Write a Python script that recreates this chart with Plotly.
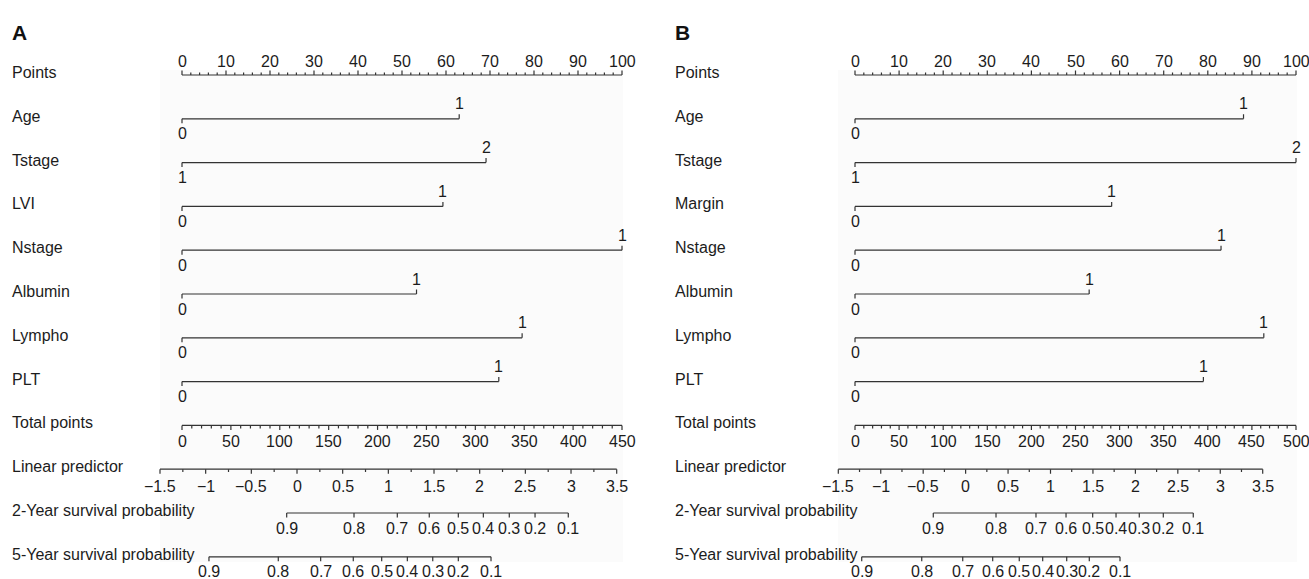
import numpy as np
import plotly.graph_objects as go

W, H = 1309, 579
FONT = "Liberation Sans, Arial, Helvetica, sans-serif"
TXT = "#1c1c1c"
LINE = "#333333"
LW = 1.2
FS = 16

# ---------------- data ----------------
ROW_LABELS_A = ["Points", "Age", "Tstage", "LVI", "Nstage", "Albumin", "Lympho", "PLT",
                "Total points", "Linear predictor",
                "2-Year survival probability", "5-Year survival probability"]
ROW_LABELS_B = ["Points", "Age", "Tstage", "Margin", "Nstage", "Albumin", "Lympho", "PLT",
                "Total points", "Linear predictor",
                "2-Year survival probability", "5-Year survival probability"]

LEVEL_LOW_A = ["0", "1", "0", "0", "0", "0", "0"]
LEVEL_HIGH_A = ["1", "2", "1", "1", "1", "1", "1"]
POINTS_A = [63.0, 69.1, 59.3, 100.0, 53.3, 77.3, 72.0]

LEVEL_LOW_B = ["0", "1", "0", "0", "0", "0", "0"]
LEVEL_HIGH_B = ["1", "2", "1", "1", "1", "1", "1"]
POINTS_B = [88.1, 100.0, 58.2, 83.0, 53.1, 92.7, 79.0]

POINTS_TICKS = [0, 10, 20, 30, 40, 50, 60, 70, 80, 90, 100]
TOTAL_TICKS_A = [0, 50, 100, 150, 200, 250, 300, 350, 400, 450]
TOTAL_TICKS_B = [0, 50, 100, 150, 200, 250, 300, 350, 400, 450, 500]
LP_TICKS = [-1.5, -1, -0.5, 0, 0.5, 1, 1.5, 2, 2.5, 3, 3.5]
LP_TICK_TEXT = ["\u22121.5", "\u22121", "\u22120.5", "0", "0.5", "1", "1.5", "2", "2.5", "3", "3.5"]

SURV_LABELS = ["0.9", "0.8", "0.7", "0.6", "0.5", "0.4", "0.3", "0.2", "0.1"]
# positions of survival ticks on the linear-predictor scale
SURV2_LP_A = [-0.113, 0.624, 1.098, 1.448, 1.766, 2.040, 2.324, 2.606, 2.970]
SURV5_LP_A = [-0.964, -0.205, 0.259, 0.616, 0.927, 1.208, 1.486, 1.766, 2.124]
SURV2_LP_B = [-0.381, 0.358, 0.829, 1.183, 1.497, 1.772, 2.046, 2.329, 2.682]
SURV5_LP_B = [-1.224, -0.517, -0.034, 0.319, 0.632, 0.908, 1.191, 1.457, 1.819]

# ---------------- style / geometry ----------------
ROW0_PX = 75.0
ROW_PX = 43.8
PAD = 0.02

PANELS = [
    dict(letter="A", labels=ROW_LABELS_A, low=LEVEL_LOW_A, high=LEVEL_HIGH_A, pts=POINTS_A,
         total_ticks=TOTAL_TICKS_A, s2=SURV2_LP_A, s5=SURV5_LP_A,
         pts_px=(182.0, 622.0), lp_px=(160.0, 616.7), label_x=10, bg=(160, 623),
         ids=("x", "x2", "x3", "y")),
    dict(letter="B", labels=ROW_LABELS_B, low=LEVEL_LOW_B, high=LEVEL_HIGH_B, pts=POINTS_B,
         total_ticks=TOTAL_TICKS_B, s2=SURV2_LP_B, s5=SURV5_LP_B,
         pts_px=(855.0, 1296.0), lp_px=(838.3, 1262.7), label_x=673, bg=(838, 1297),
         ids=("x4", "x5", "x6", "y2")),
]


def axkey(aid):
    letter = "xaxis" if aid.startswith("x") else "yaxis"
    return letter if len(aid) == 1 else letter + aid[1:]


def x_axis(px, vr, yid):
    v0, v1 = vr
    span = v1 - v0
    pspan = px[1] - px[0]
    return dict(domain=[(px[0] - PAD * pspan) / W, (px[1] + PAD * pspan) / W],
                range=[v0 - PAD * span, v1 + PAD * span],
                visible=False, anchor=yid, fixedrange=True)


fig = go.Figure()
layout_axes = {}
annotations = []
shapes = []
ydom = [1 - (ROW0_PX + 11.5 * ROW_PX) / H, 1 - (ROW0_PX - 0.5 * ROW_PX) / H]


def seg_trace(xs, ys, xid, yid):
    fig.add_trace(go.Scatter(x=xs, y=ys, xaxis=xid, yaxis=yid, mode="lines",
                             line=dict(color=LINE, width=LW), hoverinfo="skip",
                             showlegend=False))


def add_ticks(xs, ys, vals, row, length_px, direction):
    d = direction * length_px / ROW_PX
    for v in vals:
        xs += [v, v, None]
        ys += [row, row + d, None]


def label(x, row, text, xid, yid, yshift, xanchor="center", size=FS):
    annotations.append(dict(x=x, y=row, xref=xid, yref=yid, text=text, showarrow=False,
                            xanchor=xanchor, yanchor="middle", yshift=yshift,
                            font=dict(family=FONT, size=size, color=TXT)))


for P in PANELS:
    xp, xt, xl, yid = P["ids"]
    tt = P["total_ticks"]
    layout_axes[axkey(xp)] = x_axis(P["pts_px"], (0, 100), yid)
    layout_axes[axkey(xt)] = x_axis(P["pts_px"], (tt[0], tt[-1]), yid)
    layout_axes[axkey(xl)] = x_axis(P["lp_px"], (LP_TICKS[0], LP_TICKS[-1]), yid)
    layout_axes[axkey(yid)] = dict(domain=ydom, range=[11.5, -0.5], visible=False,
                                   anchor=xp, fixedrange=True)

    # light background panel
    shapes.append(dict(type="rect", xref="paper", yref="paper", layer="below",
                       x0=P["bg"][0] / W, x1=P["bg"][1] / W,
                       y0=1 - 562 / H, y1=1 - 70 / H,
                       fillcolor="#fbfbfb", line=dict(width=0)))

    # --- Points axis (row 0) ---
    xs, ys = [0, 100, None], [0, 0, None]
    minor = [v for v in np.arange(0, 100.001, 2) if v not in POINTS_TICKS]
    add_ticks(xs, ys, POINTS_TICKS, 0, 4.5, -1)
    add_ticks(xs, ys, minor, 0, 2.6, -1)
    # --- variable rows ---
    for i, p in enumerate(P["pts"]):
        r = i + 1
        xs += [0, p, None]
        ys += [r, r, None]
        add_ticks(xs, ys, [0], r, 4.5, 1)
        add_ticks(xs, ys, [p], r, 4.5, -1)
        label(0, r, P["low"][i], xp, yid, -15)
        label(p, r, P["high"][i], xp, yid, 15)
    seg_trace(xs, ys, xp, yid)
    for v in POINTS_TICKS:
        label(v, 0, str(v), xp, yid, 14)

    # --- Total points (row 8) ---
    xs, ys = [tt[0], tt[-1], None], [8, 8, None]
    minor = [v for v in np.arange(tt[0], tt[-1] + 0.001, 10) if v not in tt]
    add_ticks(xs, ys, tt, 8, 4.5, 1)
    add_ticks(xs, ys, minor, 8, 3.0, 1)
    seg_trace(xs, ys, xt, yid)
    for v in tt:
        label(v, 8, str(v), xt, yid, -16)

    # --- Linear predictor (row 9) + survival rows (10, 11) ---
    xs, ys = [LP_TICKS[0], LP_TICKS[-1], None], [9, 9, None]
    minor = [v for v in np.arange(LP_TICKS[0], LP_TICKS[-1] + 0.001, 0.25) if v not in LP_TICKS]
    add_ticks(xs, ys, LP_TICKS, 9, 4.5, 1)
    add_ticks(xs, ys, minor, 9, 2.8, 1)
    for v, t in zip(LP_TICKS, LP_TICK_TEXT):
        label(v, 9, t, xl, yid, -17)
    for row, vals in ((10, P["s2"]), (11, P["s5"])):
        xs += [vals[0], vals[-1], None]
        ys += [row, row, None]
        add_ticks(xs, ys, vals, row, 4.5, 1)
        for v, t in zip(vals, SURV_LABELS):
            label(v, row, t, xl, yid, -15)
    seg_trace(xs, ys, xl, yid)

    # --- row labels ---
    for r, t in enumerate(P["labels"]):
        annotations.append(dict(x=P["label_x"] / W, y=r, xref="paper", yref=yid, text=t,
                                showarrow=False, xanchor="left", yanchor="middle", yshift=2.5,
                                font=dict(family=FONT, size=FS, color=TXT)))
    # --- panel letter ---
    annotations.append(dict(x=P["label_x"] / W, y=1 - 32 / H, xref="paper", yref="paper",
                            text="<b>" + P["letter"] + "</b>", showarrow=False,
                            xanchor="left", yanchor="middle",
                            font=dict(family=FONT, size=21, color="#111111")))

fig.update_layout(width=W, height=H, margin=dict(l=0, r=0, t=0, b=0),
                  paper_bgcolor="white", plot_bgcolor="rgba(0,0,0,0)",
                  showlegend=False, annotations=annotations, shapes=shapes,
                  font=dict(family=FONT, size=FS, color=TXT), **layout_axes)

fig.write_html("out.html", config={"displayModeBar": False},
               post_script="document.body.style.margin='0';document.body.style.overflow='hidden';")
